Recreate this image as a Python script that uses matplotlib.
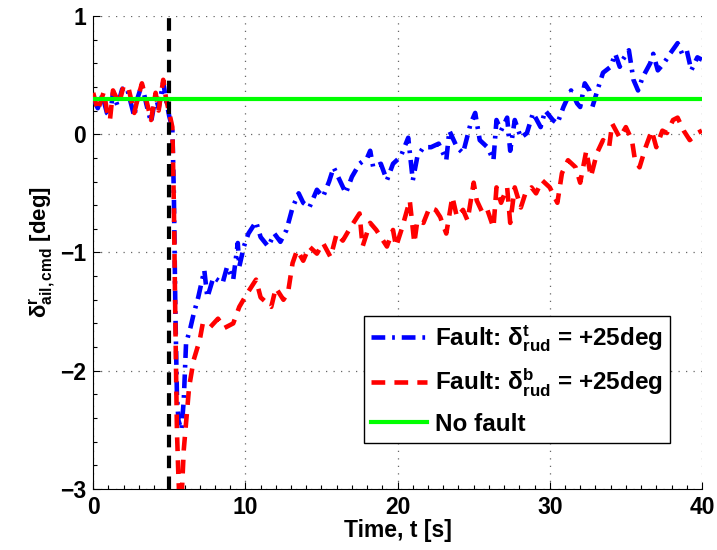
import matplotlib
matplotlib.use("Agg")
import matplotlib.pyplot as plt
from matplotlib.ticker import MultipleLocator

plt.rcParams['font.family'] = ['Liberation Sans', 'DejaVu Sans']
plt.rcParams['mathtext.fontset'] = 'custom'
plt.rcParams['mathtext.rm'] = 'Liberation Sans'
plt.rcParams['mathtext.bf'] = 'Liberation Sans:bold'
plt.rcParams['mathtext.it'] = 'Liberation Sans:italic'
plt.rcParams['mathtext.default'] = 'regular'

# ---- data ----
t_blue = [0.0, 0.3, 0.6, 0.9, 1.1, 1.3, 1.6, 1.9, 2.2, 2.5, 2.7, 2.9, 3.2, 3.5, 3.8,
          4.1, 4.3, 4.6, 4.8, 5.0, 5.2, 5.3, 5.4, 5.5, 5.6, 5.8, 5.95, 6.1, 6.4, 6.6,
          6.9, 7.3, 7.5, 7.9, 8.5, 8.8, 9.2, 9.5, 9.6, 9.9, 10.2, 10.7, 11.0, 11.5,
          11.9, 12.3, 12.7, 13.1, 13.5, 13.8, 14.2, 14.7, 15.1, 15.5, 15.8, 16.2,
          16.6, 17.0, 17.5, 18.0, 18.2, 18.4, 18.9, 19.3, 19.7, 20.2, 20.7, 21.0,
          21.3, 21.7, 22.2, 22.7, 23.2, 23.4, 23.9, 24.3, 24.8, 25.1, 25.4, 25.9,
          26.3, 26.5, 26.8, 27.2, 27.4, 27.7, 28.1, 28.5, 28.9, 29.4, 29.7, 30.2,
          30.5, 30.9, 31.4, 31.8, 32.0, 32.3, 32.6, 32.8, 33.2, 33.5, 34.0, 34.3,
          34.6, 34.8, 35.2, 35.5, 35.8, 36.1, 36.6, 36.8, 37.1, 37.5, 37.9, 38.4,
          38.7, 39.0, 39.3, 39.7, 40.0]
y_blue = [0.30, 0.22, 0.33, 0.18, 0.15, 0.35, 0.24, 0.38, 0.40, 0.25, 0.15, 0.30, 0.42,
          0.25, 0.10, 0.32, 0.22, 0.44, 0.28, 0.15, 0.05, -0.50, -1.50, -2.20, -2.42,
          -2.50, -2.25, -1.77, -1.63, -1.52, -1.38, -1.15, -1.38, -1.21, -1.26, -1.12,
          -1.23, -0.92, -1.12, -0.95, -0.84, -0.74, -0.87, -0.95, -0.84, -0.91, -0.81,
          -0.62, -0.50, -0.58, -0.62, -0.47, -0.53, -0.40, -0.28, -0.39, -0.50, -0.36,
          -0.25, -0.20, -0.14, -0.28, -0.25, -0.39, -0.25, -0.19, -0.03, -0.39, -0.19,
          -0.11, -0.11, -0.08, -0.22, 0.03, -0.11, -0.16, 0.09, 0.18, -0.05, -0.11,
          -0.22, 0.12, 0.03, 0.14, -0.14, 0.12, -0.03, 0.01, 0.18, 0.06, 0.20, 0.12,
          0.09, 0.23, 0.37, 0.26, 0.23, 0.43, 0.37, 0.23, 0.40, 0.52, 0.57, 0.68,
          0.57, 0.63, 0.71, 0.46, 0.37, 0.48, 0.60, 0.68, 0.54, 0.60, 0.68, 0.77,
          0.68, 0.71, 0.54, 0.65, 0.63]

t_red = [0.0, 0.3, 0.7, 0.9, 1.1, 1.3, 1.7, 2.0, 2.3, 2.7, 2.9, 3.2, 3.6, 3.8, 4.1,
         4.3, 4.6, 4.8, 5.0, 5.2, 5.3, 5.4, 5.5, 5.6, 5.7, 5.8, 5.95, 6.3, 6.6, 7.0,
         7.2, 7.7, 8.2, 8.6, 9.2, 9.6, 10.1, 10.7, 11.0, 11.7, 12.0, 12.5, 12.8, 13.1,
         13.4, 13.8, 14.2, 14.7, 15.1, 15.6, 16.0, 16.4, 16.9, 17.5, 17.7, 18.2, 18.6,
         19.3, 19.7, 19.9, 20.3, 20.8, 21.1, 21.3, 21.7, 22.1, 22.5, 22.8, 23.2, 23.6,
         23.9, 24.3, 24.6, 25.0, 25.2, 25.6, 25.9, 26.3, 26.5, 26.8, 27.2, 27.4, 27.7,
         28.1, 28.4, 28.8, 29.1, 29.5, 30.0, 30.5, 30.8, 31.2, 31.7, 32.0, 32.4, 32.7,
         33.1, 33.5, 33.9, 34.1, 34.6, 35.0, 35.4, 35.6, 35.9, 36.3, 36.7, 37.0, 37.4,
         37.7, 38.1, 38.4, 38.8, 39.2, 39.7, 40.0]
y_red = [0.35, 0.20, 0.36, 0.20, 0.12, 0.37, 0.26, 0.41, 0.40, 0.18, 0.29, 0.43, 0.23,
         0.12, 0.35, 0.20, 0.46, 0.29, 0.18, 0.06, -0.60, -1.60, -2.50, -2.90, -3.20,
         -3.10, -2.67, -2.14, -1.91, -1.74, -1.60, -1.63, -1.56, -1.64, -1.60, -1.46,
         -1.35, -1.23, -1.38, -1.46, -1.30, -1.40, -1.34, -1.09, -0.98, -1.07, -0.95,
         -1.01, -0.92, -1.04, -0.84, -0.90, -0.79, -0.67, -0.95, -0.75, -0.81, -0.95,
         -0.81, -0.95, -0.79, -0.56, -0.92, -0.73, -0.75, -0.62, -0.64, -0.70, -0.84,
         -0.53, -0.70, -0.64, -0.73, -0.41, -0.56, -0.67, -0.64, -0.79, -0.45, -0.58,
         -0.45, -0.75, -0.45, -0.62, -0.50, -0.45, -0.50, -0.39, -0.45, -0.58, -0.33,
         -0.22, -0.28, -0.41, -0.14, -0.36, -0.16, -0.05, -0.11, 0.09, -0.03, 0.06,
         -0.05, -0.22, -0.28, -0.11, 0.03, -0.11, 0.03, 0.01, 0.12, 0.14, 0.03, -0.05,
         0.01, 0.03]

t_nofault = [0.0, 40.0]
y_nofault = [0.3, 0.3]

t_fault = 5.0

labels = [r'Fault: $\delta^{\mathbf{t}}_{\mathbf{rud}}$ = +25deg',
          r'Fault: $\delta^{\mathbf{b}}_{\mathbf{rud}}$ = +25deg',
          'No fault']

# ---- figure ----
fig = plt.figure(figsize=(7.17, 5.5), dpi=100)
ax = fig.add_axes([0.130, 0.111, 0.849, 0.860])

ax.plot(t_blue, y_blue, color='#0000ff', lw=3.3, linestyle=(0, (3, 1.5, 0.6, 1.5)),
        label=labels[0], zorder=3)
ax.plot(t_red, y_red, color='#ff0000', lw=3.3, linestyle=(0, (3, 2)),
        label=labels[1], zorder=4)
ax.plot(t_nofault, y_nofault, color='#00ff00', lw=3, label=labels[2], zorder=5)
ax.axvline(t_fault, color='black', lw=3, linestyle=(0, (3, 2)), zorder=6)

ax.set_xlim(0, 40)
ax.set_ylim(-3, 1)
ax.xaxis.set_major_locator(MultipleLocator(10))
ax.xaxis.set_minor_locator(MultipleLocator(1))
ax.yaxis.set_major_locator(MultipleLocator(1))
ax.yaxis.set_minor_locator(MultipleLocator(0.2))

ax.grid(True, which='major', color='#666666', linestyle=(0, (1, 5)), lw=0.9)
for s in ['top', 'right']:
    ax.spines[s].set_visible(False)
ax.spines['left'].set_linewidth(0.8)
ax.spines['bottom'].set_linewidth(0.8)
ax.tick_params(which='both', direction='in', width=0.8)
ax.tick_params(which='major', length=5, labelsize=16.5, pad=5)
ax.tick_params(which='minor', length=3)
for lab in ax.get_xticklabels() + ax.get_yticklabels():
    lab.set_fontweight('bold')

ax.set_xlabel('Time, t [s]', fontsize=16.5, fontweight='bold', labelpad=0)
ax.set_ylabel(r'$\delta^{\mathbf{r}}_{\mathbf{ail,cmd}}$ [deg]', fontsize=16,
              fontweight='bold', labelpad=2)

leg = ax.legend(loc='lower right', bbox_to_anchor=(0.947, 0.097),
                prop={'size': 17.5, 'weight': 'bold'}, fancybox=False,
                edgecolor='black', framealpha=1, handlelength=2.3,
                handletextpad=0.3, borderpad=0.3, labelspacing=0.55,
                borderaxespad=0)
leg.get_frame().set_linewidth(1.0)

fig.savefig('out.png', dpi=100)
